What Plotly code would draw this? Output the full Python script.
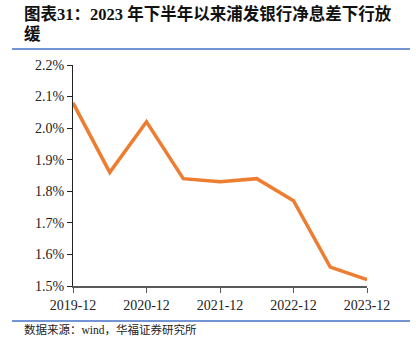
import plotly.graph_objects as go

periods = ["2019-12", "2020-06", "2020-12", "2021-06", "2021-12",
           "2022-06", "2022-12", "2023-06", "2023-12"]
nim = [2.08, 1.86, 2.02, 1.84, 1.83, 1.84, 1.77, 1.56, 1.52]
x_ticks = ["2019-12", "2020-12", "2021-12", "2022-12", "2023-12"]
y_ticks = [1.5, 1.6, 1.7, 1.8, 1.9, 2.0, 2.1, 2.2]
y_labels = ["1.5%", "1.6%", "1.7%", "1.8%", "1.9%", "2.0%", "2.1%", "2.2%"]
title1 = "图表31：2023 年下半年以来浦发银行净息差下行放"
title2 = "缓"
source = "数据来源：wind，华福证券研究所"

W, H = 416, 358
L, R, T, B = 73, 367, 65, 286

def px(x):
    return (x - L) / (R - L)

def py(y):
    return (B - y) / (B - T)

SERIF = "Liberation Serif, Noto Sans CJK SC"

fig = go.Figure()
fig.add_trace(go.Scatter(x=periods, y=nim, mode="lines",
                         line=dict(color="#ED7D31", width=3.5),
                         hoverinfo="skip", showlegend=False))

fig.update_layout(
    width=W, height=H,
    margin=dict(l=L, r=W - R, t=T, b=H - B),
    paper_bgcolor="white", plot_bgcolor="white",
    font=dict(family=SERIF, color="#222222"),
    xaxis=dict(type="category", range=[0, len(periods) - 1],
               tickmode="array", tickvals=x_ticks, ticktext=x_ticks,
               showgrid=False, showline=True, linecolor="#595959", linewidth=1.5,
               ticks="outside", ticklen=5, tickcolor="#595959",
               tickfont=dict(size=14, family=SERIF, color="#222222"),
               zeroline=False, fixedrange=True),
    yaxis=dict(range=[1.5, 2.2], tickmode="array", tickvals=y_ticks, ticktext=y_labels,
               showgrid=False, showline=True, linecolor="#222222", linewidth=1.2,
               ticks="outside", ticklen=5, tickcolor="#222222",
               tickfont=dict(size=14, family=SERIF, color="#222222"),
               zeroline=False, fixedrange=True),
)

fig.add_annotation(x=px(22), y=py(14), xref="paper", yref="paper",
                   xanchor="left", yanchor="middle", showarrow=False,
                   text="<b>" + title1 + "</b>",
                   font=dict(size=16.5, family=SERIF, color="#111111"))
fig.add_annotation(x=px(22), y=py(34), xref="paper", yref="paper",
                   xanchor="left", yanchor="middle", showarrow=False,
                   text="<b>" + title2 + "</b>",
                   font=dict(size=16.5, family=SERIF, color="#111111"))
fig.add_annotation(x=px(22), y=py(329), xref="paper", yref="paper",
                   xanchor="left", yanchor="middle", showarrow=False,
                   text=source,
                   font=dict(size=11.5, family=SERIF, color="#222222"))

for yline in (49, 321):
    fig.add_shape(type="line", xref="paper", yref="paper",
                  x0=px(12), x1=px(410), y0=py(yline), y1=py(yline),
                  line=dict(color="#4472C4", width=1.5))

fig.write_html("out.html", config={"displayModeBar": False},
               post_script="document.body.style.margin='0';document.body.style.padding='0';")
